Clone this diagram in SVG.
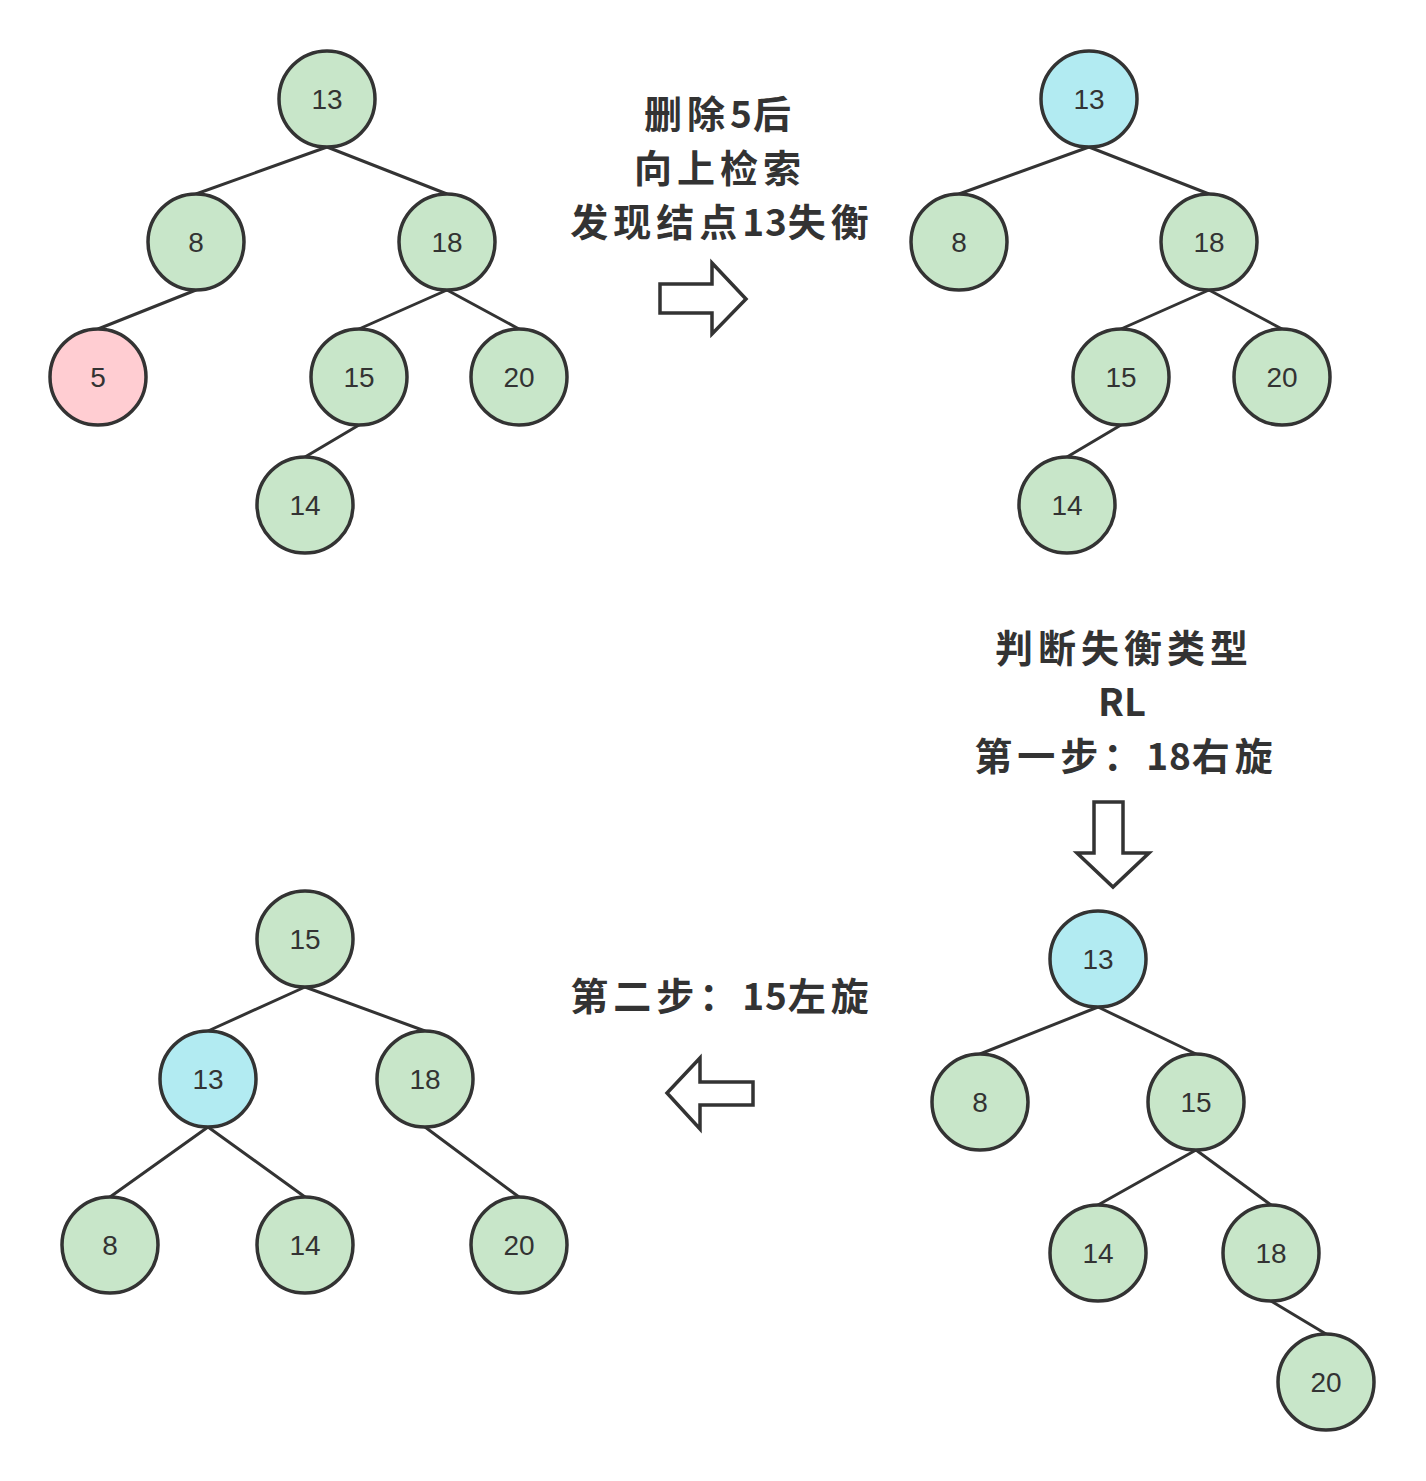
<svg xmlns="http://www.w3.org/2000/svg" width="1426" height="1481" viewBox="0 0 1426 1481">
<style>
.n{stroke:#333;stroke-width:3.5}
.g{fill:#c8e6c9}
.p{fill:#ffcdd2}
.b{fill:#b2ebf2}
.t{font-family:"Liberation Sans","Noto Sans",sans-serif;font-size:28px;fill:#333;text-anchor:middle;dominant-baseline:central}
.e{stroke:#333;stroke-width:3;fill:none}
.lab{font-family:"Noto Sans CJK SC","Liberation Sans",sans-serif;font-size:38px;font-weight:bold;fill:#333;text-anchor:middle;letter-spacing:5px}
.d{letter-spacing:1px;font-size:37px}
.ar{fill:#fff;stroke:#333;stroke-width:3.5;stroke-linejoin:miter}
</style>
<rect width="1426" height="1481" fill="#fff"/>
<g id="connectors">
<path class="e" d="M327 147L196 194M327 147L447 194M196 290L98 329M447 290L359 329M447 290L519 329M359 425L305 457"/>
<path class="e" d="M1089 147L959 194M1089 147L1209 194M1209 290L1121 329M1209 290L1282 329M1121 425L1067 457"/>
<path class="e" d="M1098 1007L980 1054M1098 1007L1196 1054M1196 1150L1098 1205M1196 1150L1271 1205M1271 1301L1326 1334"/>
<path class="e" d="M305 987L208 1031M305 987L425 1031M208 1127L110 1197M208 1127L305 1197M425 1127L519 1197"/>
</g>
<g id="t1-13"><circle class="n g" cx="327" cy="99" r="48"/><text class="t" x="327" y="99">13</text></g>
<g id="t1-8"><circle class="n g" cx="196" cy="242" r="48"/><text class="t" x="196" y="242">8</text></g>
<g id="t1-18"><circle class="n g" cx="447" cy="242" r="48"/><text class="t" x="447" y="242">18</text></g>
<g id="t1-5"><circle class="n p" cx="98" cy="377" r="48"/><text class="t" x="98" y="377">5</text></g>
<g id="t1-15"><circle class="n g" cx="359" cy="377" r="48"/><text class="t" x="359" y="377">15</text></g>
<g id="t1-20"><circle class="n g" cx="519" cy="377" r="48"/><text class="t" x="519" y="377">20</text></g>
<g id="t1-14"><circle class="n g" cx="305" cy="505" r="48"/><text class="t" x="305" y="505">14</text></g>

<g id="t2-13"><circle class="n b" cx="1089" cy="99" r="48"/><text class="t" x="1089" y="99">13</text></g>
<g id="t2-8"><circle class="n g" cx="959" cy="242" r="48"/><text class="t" x="959" y="242">8</text></g>
<g id="t2-18"><circle class="n g" cx="1209" cy="242" r="48"/><text class="t" x="1209" y="242">18</text></g>
<g id="t2-15"><circle class="n g" cx="1121" cy="377" r="48"/><text class="t" x="1121" y="377">15</text></g>
<g id="t2-20"><circle class="n g" cx="1282" cy="377" r="48"/><text class="t" x="1282" y="377">20</text></g>
<g id="t2-14"><circle class="n g" cx="1067" cy="505" r="48"/><text class="t" x="1067" y="505">14</text></g>

<g id="t3-13"><circle class="n b" cx="1098" cy="959" r="48"/><text class="t" x="1098" y="959">13</text></g>
<g id="t3-8"><circle class="n g" cx="980" cy="1102" r="48"/><text class="t" x="980" y="1102">8</text></g>
<g id="t3-15"><circle class="n g" cx="1196" cy="1102" r="48"/><text class="t" x="1196" y="1102">15</text></g>
<g id="t3-14"><circle class="n g" cx="1098" cy="1253" r="48"/><text class="t" x="1098" y="1253">14</text></g>
<g id="t3-18"><circle class="n g" cx="1271" cy="1253" r="48"/><text class="t" x="1271" y="1253">18</text></g>
<g id="t3-20"><circle class="n g" cx="1326" cy="1382" r="48"/><text class="t" x="1326" y="1382">20</text></g>

<g id="t4-15"><circle class="n g" cx="305" cy="939" r="48"/><text class="t" x="305" y="939">15</text></g>
<g id="t4-13"><circle class="n b" cx="208" cy="1079" r="48"/><text class="t" x="208" y="1079">13</text></g>
<g id="t4-18"><circle class="n g" cx="425" cy="1079" r="48"/><text class="t" x="425" y="1079">18</text></g>
<g id="t4-8"><circle class="n g" cx="110" cy="1245" r="48"/><text class="t" x="110" y="1245">8</text></g>
<g id="t4-14"><circle class="n g" cx="305" cy="1245" r="48"/><text class="t" x="305" y="1245">14</text></g>
<g id="t4-20"><circle class="n g" cx="519" cy="1245" r="48"/><text class="t" x="519" y="1245">20</text></g>

<g id="label1">
<text class="lab" x="720" y="128">删除<tspan class="d">5</tspan>后</text>
<text class="lab" x="720" y="182">向上检索</text>
<text class="lab" x="722" y="236">发现结点<tspan class="d">13</tspan>失衡</text>
</g>
<g id="label2">
<text class="lab" x="1124" y="662">判断失衡类型</text>
<text class="lab" x="1122" y="716" style="letter-spacing:0">RL</text>
<text class="lab" x="1126" y="770">第一步：<tspan class="d">18</tspan>右旋</text>
</g>
<g id="label3">
<text class="lab" x="722" y="1010">第二步：<tspan class="d">15</tspan>左旋</text>
</g>
<g id="arrows">
<path class="ar" d="M660 284H712V263L746 299L712 334V313H660Z"/>
<path class="ar" d="M1094 802H1123V853H1149L1113 887L1077 853H1094Z"/>
<path class="ar" d="M753 1082H700V1058L667 1093L700 1129V1105H753Z"/>
</g>
</svg>
